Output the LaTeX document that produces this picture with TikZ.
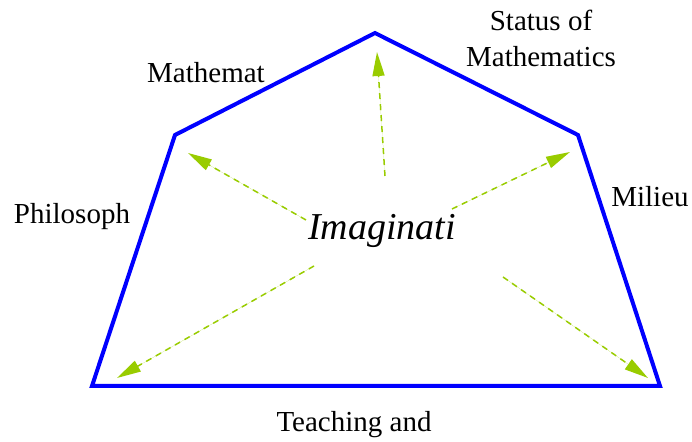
\documentclass[tikz,border=0pt]{standalone}
\usepackage{fontspec}
\setmainfont{Liberation Serif}
\usetikzlibrary{arrows.meta}
\definecolor{edgeblue}{RGB}{0,0,255}
\definecolor{raygreen}{RGB}{153,204,0}
\tikzset{side/.style={draw=edgeblue,line width=2pt,line join=miter},
  ray/.style={draw=raygreen,fill=raygreen,line width=0.75pt,dash pattern=on 3pt off 2.5pt,-{Triangle[length=12pt,width=6pt]}},
  lbl/.style={font=\fontsize{14.5}{18}\selectfont,align=center,inner sep=0pt}}

\begin{document}
\begin{tikzpicture}[x=0.5pt,y=-0.5pt]
\useasboundingbox (0,0) rectangle (692,442);
% corners of the pentagon
\coordinate (bl) at (92,386);
\coordinate (ul) at (175,135);
\coordinate (top) at (375,33);
\coordinate (ur) at (578,135);
\coordinate (br) at (660,386);
\draw[side] (bl) -- (ul) -- (top) -- (ur) -- (br) -- cycle;
% labels
\node[lbl] (math) at (206,73) {Mathemat};
\node[lbl] (status) at (541,38) {Status of\\Mathematics};
\node[lbl] (milieu) at (650,197) {Milieu};
\node[lbl] (philo) at (72,217) {Philosoph};
\node[lbl] (teach) at (354,425) {Teaching and};
\node[font=\fontsize{19}{22}\selectfont\itshape,inner sep=0pt] (imag) at (382,231) {Imaginati};
% arrows out of the centre
\coordinate (s1) at (385,176);  \coordinate (e1) at (377,52);
\coordinate (s2) at (306,220);  \coordinate (e2) at (188,153);
\coordinate (s3) at (452,209);  \coordinate (e3) at (570,152);
\coordinate (s4) at (314,266);  \coordinate (e4) at (117,378);
\coordinate (s5) at (503,277);  \coordinate (e5) at (648,378);
\foreach \i in {1,...,5}
  \draw[ray] (s\i) -- (e\i);
\end{tikzpicture}
\end{document}
